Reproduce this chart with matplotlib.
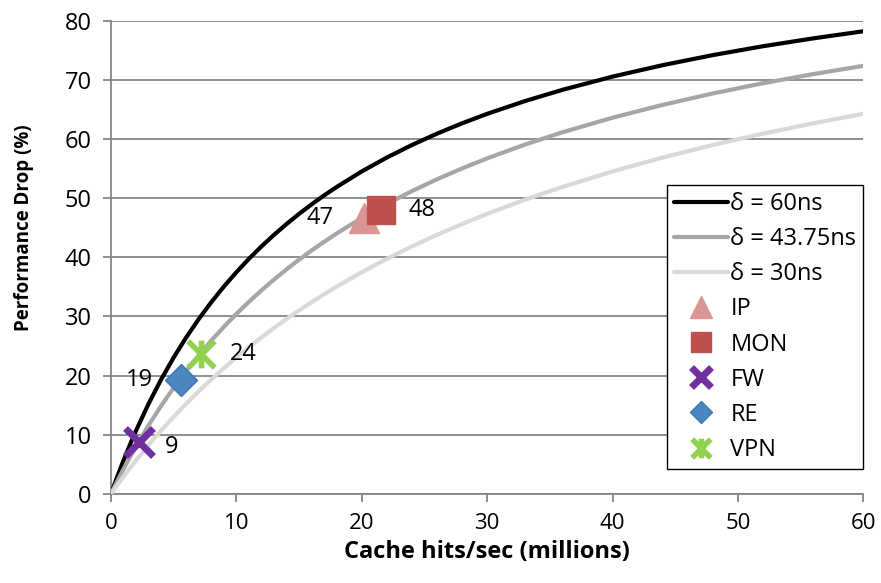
import matplotlib
matplotlib.use("Agg")
import matplotlib.pyplot as plt
from matplotlib.path import Path

plt.rcParams['font.family'] = ['Open Sans', 'DejaVu Sans']

# Curve samples (x: millions of cache hits/sec, y: % drop)
x_vals = [0, 0.5, 1, 1.5, 2, 3, 4, 5, 6, 7, 8, 9, 10, 11, 12, 13, 14, 15, 16, 17, 18,
          20, 22, 24, 26, 28, 30, 33, 36, 40, 44, 48, 52, 56, 60]
drop_60 = [0, 2.91, 5.66, 8.26, 10.71, 15.25, 19.35, 23.08, 26.47, 29.58, 32.43, 35.06,
           37.50, 39.76, 41.86, 43.82, 45.65, 47.37, 48.98, 50.50, 51.92,
           54.55, 56.90, 59.02, 60.94, 62.69, 64.29, 66.44, 68.35, 70.59, 72.53, 74.23,
           75.73, 77.06, 78.26]
drop_4375 = [0, 2.14, 4.19, 6.16, 8.05, 11.60, 14.89, 17.95, 20.79, 23.44, 25.93, 28.25,
             30.43, 32.49, 34.43, 36.25, 37.98, 39.62, 41.18, 42.65, 44.06,
             46.67, 49.04, 51.22, 53.22, 55.06, 56.76, 59.08, 61.17, 63.64, 65.81, 67.74,
             69.47, 71.01, 72.41]
drop_30 = [0, 1.48, 2.91, 4.31, 5.66, 8.26, 10.71, 13.04, 15.25, 17.36, 19.35, 21.26,
           23.08, 24.81, 26.47, 28.06, 29.58, 31.03, 32.43, 33.77, 35.06,
           37.50, 39.76, 41.86, 43.82, 45.65, 47.37, 49.75, 51.92, 54.55, 56.90, 59.02,
           60.94, 62.69, 64.29]
curve_labels = ["δ = 60ns", "δ = 43.75ns", "δ = 30ns"]

# Application points
apps = ["IP", "MON", "FW", "RE", "VPN"]
app_x = [20.2, 21.5, 2.2, 5.6, 7.2]
app_y = [46.7, 48.0, 8.8, 19.3, 23.6]
app_labels = ["47", "48", "9", "19", "24"]

fig = plt.figure(figsize=(8.81, 5.83), dpi=100)
ax = fig.add_axes([0.126, 0.153, 0.854, 0.811])

line_kw = dict(lw=3, solid_joinstyle="round", solid_capstyle="round", zorder=3)
ax.plot(x_vals, drop_60, color="#000000", label=curve_labels[0], **line_kw)
ax.plot(x_vals, drop_4375, color="#A6A6A6", label=curve_labels[1], **line_kw)
ax.plot(x_vals, drop_30, color="#D9D9D9", label=curve_labels[2], **line_kw)

star_path = Path([(-1, -1), (1, 1), (-1, 1), (1, -1), (0, -1.05), (0, 1.05)],
                 [Path.MOVETO, Path.LINETO, Path.MOVETO, Path.LINETO, Path.MOVETO, Path.LINETO])

ax.plot(app_x[0], app_y[0], linestyle="none", marker="^", ms=22, color="#DA9694",
        mec="#DA9694", label=apps[0], zorder=4)
ax.plot(app_x[1], app_y[1], linestyle="none", marker="s", ms=20, color="#C0504D",
        mec="#C0504D", label=apps[1], zorder=5)
ax.plot(app_x[2], app_y[2], linestyle="none", marker="x", ms=20, mew=5, color="#7030A0",
        label=apps[2], zorder=5)
ax.plot(app_x[3], app_y[3], linestyle="none", marker="D", ms=16, color="#4A86C0",
        mec="#3B78B0", label=apps[3], zorder=5)
ax.plot(app_x[4], app_y[4], linestyle="none", marker=star_path, ms=20, mew=4,
        color="#92D050", label=apps[4], zorder=5)

offsets = [(-32, 0), (30, 0), (24, -4), (-30, 0), (30, 0)]
for xv, yv, lab, off in zip(app_x, app_y, app_labels, offsets):
    ax.annotate(lab, (xv, yv), xytext=off, textcoords="offset points",
                ha="center", va="center", fontsize=17, color="#000000")

ax.set_xlim(0, 60)
ax.set_ylim(0, 80)
ax.set_xticks(range(0, 61, 10))
ax.set_yticks(range(0, 81, 10))
ax.yaxis.grid(True, color="#868686", lw=1.3)
ax.set_axisbelow(True)
for s in ["top", "right"]:
    ax.spines[s].set_visible(False)
for s in ["left", "bottom"]:
    ax.spines[s].set_color("#868686")
    ax.spines[s].set_linewidth(1.3)
ax.tick_params(axis="both", direction="out", length=6, width=1.3, color="#868686", pad=8)
ax.tick_params(axis="y", labelsize=17)
ax.tick_params(axis="x", labelsize=16)

ax.set_xlabel("Cache hits/sec (millions)", fontsize=17, fontweight="bold", labelpad=4)
ax.set_ylabel("Performance Drop (%)", fontsize=13.5, fontweight="bold")
ax.yaxis.set_label_coords(-0.103, 0.562)

leg = ax.legend(loc="upper right", bbox_to_anchor=(1.0, 0.653), fontsize=17,
                frameon=True, fancybox=False, edgecolor="#000000", framealpha=1,
                handlelength=2.3, handletextpad=0.1, borderpad=0.3, labelspacing=0.47,
                borderaxespad=0, markerscale=0.7)
leg.get_frame().set_linewidth(1.0)

fig.savefig("out.png", dpi=100)
